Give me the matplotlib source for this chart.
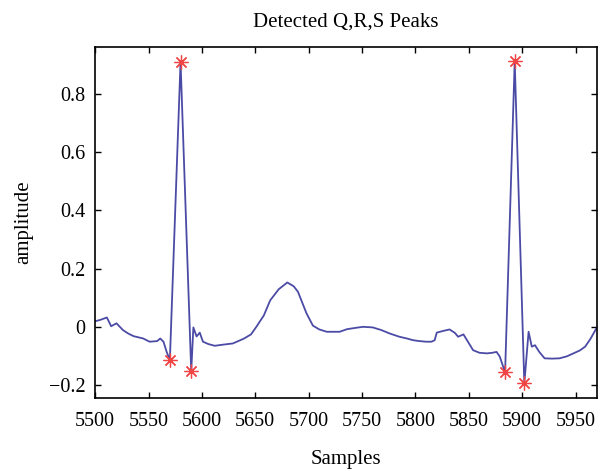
import matplotlib
matplotlib.use('Agg')
import matplotlib.pyplot as plt

# ECG trace
samples = [5500, 5505, 5511, 5515, 5520, 5526, 5531, 5536, 5545, 5551, 5558, 5561, 5564, 5567,
           5570, 5580, 5590, 5592, 5595, 5598, 5601, 5606, 5612, 5620, 5629, 5639, 5646, 5651,
           5658, 5664, 5672, 5680, 5686, 5690, 5698, 5704, 5710, 5717, 5729, 5736, 5745, 5751,
           5760, 5768, 5776, 5785, 5792, 5798, 5804, 5810, 5815, 5818, 5820, 5826, 5832, 5837,
           5840, 5845, 5850, 5854, 5860, 5867, 5872, 5876, 5879, 5884, 5893, 5902, 5906, 5909,
           5912, 5916, 5921, 5928, 5935, 5942, 5948, 5954, 5959, 5964, 5970]
amplitude = [0.020, 0.025, 0.033, 0.003, 0.013, -0.010, -0.022, -0.031, -0.039, -0.050, -0.048,
             -0.039, -0.050, -0.085, -0.113, 0.910, -0.152, -0.001, -0.032, -0.019, -0.050,
             -0.058, -0.064, -0.060, -0.056, -0.040, -0.025, 0.001, 0.040, 0.092, 0.130, 0.153,
             0.140, 0.121, 0.047, 0.005, -0.008, -0.016, -0.016, -0.007, -0.002, 0.001, -0.001,
             -0.010, -0.022, -0.033, -0.039, -0.045, -0.048, -0.050, -0.050, -0.045, -0.019,
             -0.013, -0.008, -0.020, -0.033, -0.025, -0.055, -0.079, -0.088, -0.090, -0.088,
             -0.085, -0.101, -0.155, 0.911, -0.193, -0.016, -0.067, -0.062, -0.085, -0.107,
             -0.108, -0.107, -0.100, -0.090, -0.080, -0.067, -0.040, -0.001]

# detected peaks
peak_x = [5570, 5580, 5590, 5884, 5893, 5902]
peak_y = [-0.113, 0.910, -0.152, -0.155, 0.911, -0.193]

xticks = list(range(5500, 5951, 50))
yticks = [-0.2, 0, 0.2, 0.4, 0.6, 0.8]
ytick_labels = ['\u22120.2', '0', '0.2', '0.4', '0.6', '0.8']

plt.rcParams['font.family'] = ['Liberation Serif', 'DejaVu Serif']

fig = plt.figure(figsize=(6.06, 4.71), dpi=100)
ax = fig.add_axes([0.157, 0.155, 0.828, 0.745])
ax.plot(samples, amplitude, color='#4b4ba6', linewidth=1.3)
ax.plot(peak_x, peak_y, linestyle='none', marker=(8, 2, 0), markersize=10,
        color='#f04545', markeredgewidth=0.9)

ax.set_xlim(5500, 5970)
ax.set_ylim(-0.243, 0.96)
ax.set_xticks(xticks)
ax.set_yticks(yticks)
ax.set_yticklabels(ytick_labels)
ax.tick_params(direction='in', top=True, right=True, labelsize=14.5, length=4, width=1)
ax.tick_params(axis='x', pad=10)
ax.tick_params(axis='y', pad=7)
for s in ax.spines.values():
    s.set_linewidth(1.2)

ax.set_title('Detected Q,R,S Peaks', fontsize=15, pad=15)
ax.set_xlabel('Samples', fontsize=15, labelpad=14)
ax.set_ylabel('amplitude', fontsize=15, labelpad=11)

fig.savefig('out.png', dpi=100)
